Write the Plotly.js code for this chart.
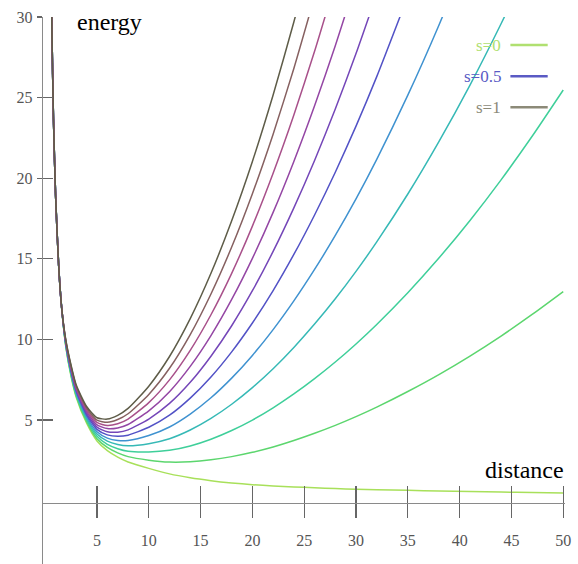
<!DOCTYPE html>
<html>
<head>
<meta charset="utf-8">
<script src="https://cdn.plot.ly/plotly-3.0.1.min.js"></script>
<style>html,body{margin:0;padding:0;background:#fff;}#chart{width:578px;height:564px;}</style>
</head>
<body>
<div id="chart"></div>
<script>
// distance values (x)
const distance = [0.55, 0.65, 0.8, 1, 1.3, 1.6, 2, 2.5, 3, 4, 5, 6, 7, 8, 10, 12, 14, 16, 18, 20, 22, 24, 26, 28, 30, 32, 35, 38, 41, 44, 47, 50];

// energy curves, one per s value
const sValues = [0, 0.1, 0.2, 0.3, 0.4, 0.5, 0.6, 0.7, 0.8, 0.9, 1];
const energy_s00 = [34.5, 29.2, 23.7, 19, 14.6, 11.9, 9.5, 7.7, 6.4, 4.8, 3.7, 3.1, 2.7, 2.4, 2.0, 1.66, 1.42, 1.24, 1.1, 0.99, 0.91, 0.85, 0.8, 0.75, 0.71, 0.68, 0.64, 0.6, 0.56, 0.53, 0.5, 0.47];
const energy_s01 = [34.5, 29.2, 23.7, 19, 14.6, 11.9, 9.54, 7.77, 6.48, 4.90, 3.84, 3.30, 2.96, 2.73, 2.51, 2.39, 2.41, 2.53, 2.73, 3.0, 3.33, 3.73, 4.18, 4.67, 5.21, 5.80, 6.77, 7.82, 8.97, 10.21, 11.55, 12.97];
const energy_s02 = [34.5, 29.2, 23.7, 19, 14.6, 11.9, 9.59, 7.84, 6.55, 5.01, 3.99, 3.49, 3.22, 3.06, 3.02, 3.12, 3.39, 3.81, 4.35, 5.0, 5.76, 6.62, 7.57, 8.60, 9.72, 10.93, 12.90, 15.05, 17.38, 19.90, 22.60, 25.47];
const energy_s03 = [34.5, 29.2, 23.7, 19, 14.6, 11.9, 9.63, 7.91, 6.63, 5.11, 4.13, 3.69, 3.48, 3.40, 3.53, 3.84, 4.38, 5.10, 5.98, 7.01, 8.18, 9.50, 10.95, 12.52, 14.22, 16.05, 19.02, 22.27, 25.78, 29.58, 33.64];
const energy_s04 = [34.5, 29.2, 23.7, 19, 14.6, 11.9, 9.68, 7.98, 6.71, 5.22, 4.27, 3.88, 3.73, 3.73, 4.04, 4.57, 5.37, 6.38, 7.60, 9.01, 10.61, 12.39, 14.34, 16.45, 18.72, 21.17, 25.15, 29.49, 34.19];
const energy_s05 = [34.5, 29.2, 23.7, 19, 14.6, 11.9, 9.72, 8.05, 6.79, 5.32, 4.42, 4.08, 3.99, 4.06, 4.55, 5.30, 6.36, 7.67, 9.23, 11.02, 13.03, 15.27, 17.72, 20.37, 23.23, 26.30, 31.28];
const energy_s06 = [34.5, 29.2, 23.7, 19, 14.6, 11.9, 9.76, 8.12, 6.86, 5.42, 4.56, 4.27, 4.25, 4.39, 5.06, 6.03, 7.34, 8.96, 10.85, 13.02, 15.46, 18.16, 21.10, 24.29, 27.73, 31.42];
const energy_s07 = [34.5, 29.2, 23.7, 19, 14.6, 11.9, 9.81, 8.19, 6.94, 5.53, 4.70, 4.47, 4.51, 4.72, 5.57, 6.76, 8.33, 10.24, 12.48, 15.03, 17.88, 21.04, 24.49, 28.22, 32.24];
const energy_s08 = [34.5, 29.2, 23.7, 19, 14.6, 11.9, 9.85, 8.26, 7.02, 5.63, 4.85, 4.66, 4.77, 5.06, 6.08, 7.49, 9.32, 11.53, 14.10, 17.03, 20.31, 23.92, 27.87, 32.14];
const energy_s09 = [34.5, 29.2, 23.7, 19, 14.6, 11.9, 9.89, 8.33, 7.09, 5.74, 4.99, 4.86, 5.03, 5.39, 6.59, 8.21, 10.30, 12.82, 15.73, 19.04, 22.73, 26.81, 31.26];
const energy_s10 = [34.5, 29.2, 23.7, 19, 14.6, 11.9, 9.94, 8.40, 7.17, 5.84, 5.14, 5.06, 5.29, 5.72, 7.10, 8.94, 11.29, 14.10, 17.36, 21.04, 25.16, 29.69, 34.64];

const curveColors = ['#a8e05a', '#5cd66e', '#3fcf9a', '#36b9b6', '#3f92d0', '#5252c6', '#7446b8', '#9446a4', '#a8508a', '#866060', '#5e5c48'];

// tick labels
const xTicks = [5, 10, 15, 20, 25, 30, 35, 40, 45, 50];
const yTicks = [5, 10, 15, 20, 25, 30];

// legend entries
const legendLabels = ['s=0', 's=0.5', 's=1'];
const legendColors = ['#b0e070', '#5a5ac4', '#8c8a78'];
const legendY = [28.26, 26.33, 24.4];

const series = [energy_s00, energy_s01, energy_s02, energy_s03, energy_s04, energy_s05, energy_s06, energy_s07, energy_s08, energy_s09, energy_s10];

const traces = series.map((ys, i) => ({
  type: 'scatter', mode: 'lines',
  x: distance.slice(0, ys.length), y: ys,
  line: {color: curveColors[i], width: 1.5, shape: 'spline', smoothing: 0.6},
  name: 's=' + sValues[i], showlegend: false, hoverinfo: 'skip'
}));
// helper traces so the second (tick-only) axes are drawn
traces.push({type: 'scatter', mode: 'lines', x: [null], y: [null], xaxis: 'x2', yaxis: 'y', showlegend: false, hoverinfo: 'skip'});
traces.push({type: 'scatter', mode: 'lines', x: [null], y: [null], xaxis: 'x', yaxis: 'y2', showlegend: false, hoverinfo: 'skip'});

const serif = '"Liberation Serif", "Times New Roman", Times, "DejaVu Serif", serif';
const tickFont = {family: serif, size: 16, color: '#555'};
const xr = [-0.21, 50.17];
const yr = [-3.93, 30];
const xpos = 0.1115;
const xdom = [43/578, 565/578];

const annotations = [
  {text: 'energy', x: 6.25, y: 29.7, xref: 'x', yref: 'y', showarrow: false, font: {family: serif, size: 24, color: '#000'}, xanchor: 'center', yanchor: 'middle'},
  {text: 'distance', x: 46.3, y: 1.9, xref: 'x', yref: 'y', showarrow: false, font: {family: serif, size: 24, color: '#000'}, xanchor: 'center', yanchor: 'middle'}
];
const shapes = [];
legendLabels.forEach((lab, i) => {
  annotations.push({text: lab, x: 44.2, y: legendY[i], xref: 'x', yref: 'y', showarrow: false, xanchor: 'right', yanchor: 'middle', font: {family: serif, size: 17, color: legendColors[i]}});
  shapes.push({type: 'line', xref: 'x', yref: 'y', x0: 44.9, x1: 48.5, y0: legendY[i], y1: legendY[i], line: {color: legendColors[i], width: 2.5}});
});

const layout = {
  width: 578, height: 564,
  margin: {l: 0, r: 0, t: 17, b: 0, pad: 0},
  paper_bgcolor: '#fff', plot_bgcolor: '#fff',
  showlegend: false,
  font: {family: serif},
  xaxis: {
    domain: xdom, range: xr, anchor: 'free', position: xpos,
    showgrid: false, zeroline: false, showline: true, linecolor: '#8a8a8a', linewidth: 1.3,
    tickmode: 'array', tickvals: xTicks, ticktext: xTicks.map(String),
    ticks: 'inside', ticklen: 17, tickwidth: 1.2, tickcolor: '#666',
    tickfont: tickFont, ticklabelstandoff: 22
  },
  xaxis2: {
    domain: xdom, range: xr, overlaying: 'x', anchor: 'free', position: xpos,
    showgrid: false, zeroline: false, showline: false, showticklabels: false,
    tickmode: 'array', tickvals: xTicks,
    ticks: 'outside', ticklen: 14, tickwidth: 1.2, tickcolor: '#666'
  },
  yaxis: {
    domain: [0, 1], range: yr, anchor: 'x',
    showgrid: false, zeroline: false, showline: true, linecolor: '#8a8a8a', linewidth: 1.3,
    tickmode: 'array', tickvals: yTicks, ticktext: yTicks.map(String),
    ticks: 'inside', ticklen: 10, tickwidth: 1.2, tickcolor: '#666',
    tickfont: tickFont, ticklabelstandoff: 6
  },
  yaxis2: {
    domain: [0, 1], range: yr, overlaying: 'y', anchor: 'x', side: 'left',
    showgrid: false, zeroline: false, showline: false, showticklabels: false,
    tickmode: 'array', tickvals: yTicks,
    ticks: 'outside', ticklen: 5, tickwidth: 1.2, tickcolor: '#666'
  },
  annotations: annotations,
  shapes: shapes
};

Plotly.newPlot('chart', traces, layout, {staticPlot: true, displayModeBar: false});
</script>
</body>
</html>
